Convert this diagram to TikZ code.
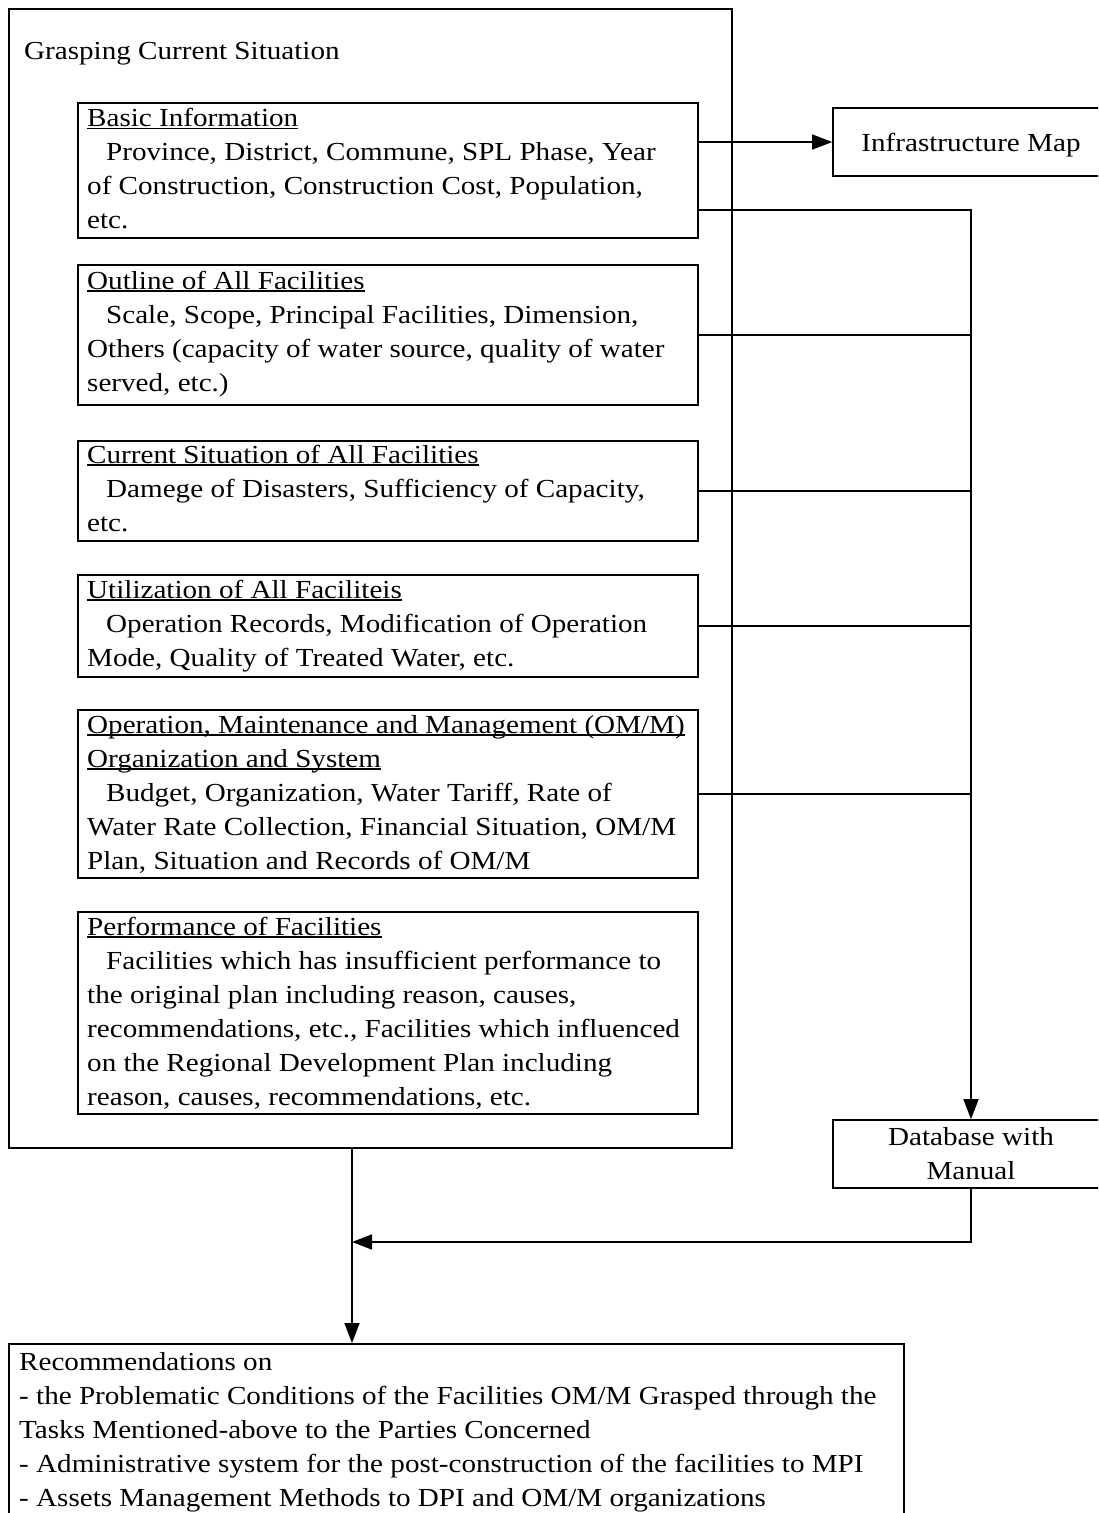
\documentclass[tikz,border=0pt]{standalone}
\usepackage{fontspec}
\setmainfont{Liberation Serif}[FakeStretch=1.12]
\usetikzlibrary{arrows.meta}
\newcommand\fs{\fontsize{26}{34}\selectfont}
\newsavebox\ulbox
\newcommand\uline[1]{\sbox\ulbox{#1}\rlap{\rule[-2.5pt]{\wd\ulbox}{1.2pt}}\usebox\ulbox}
\newcommand\ind{\hspace*{19pt}}
\begin{document}
\begin{tikzpicture}[x=1pt,y=-1pt,
  frame/.style={draw, line width=1.6pt, inner sep=0pt, anchor=north west},
  cbox/.style={draw, line width=1.6pt, inner sep=0pt, align=center, font=\fs, minimum width=276pt, minimum height=68pt},
  txt/.style={anchor=north west, inner sep=0pt, align=left, font=\fs},
  link/.style={line width=1.6pt},
  arr/.style={line width=1.6pt, -{Triangle[length=20pt,width=15pt]}}]
\clip (0,0) rectangle (1098,1513);
% outer frame
\node[frame, minimum width=723pt, minimum height=1139pt] (outer) at (8,8) {};
\node[txt] (title) at (24,35) {\strut Grasping Current Situation};
% inner boxes
\node[frame, minimum width=620pt, minimum height=135pt] (basic) at (77,102) {};
\node[txt] (basicT) at (87,102.5) {\strut\uline{Basic Information}\\
\ind Province, District, Commune, SPL Phase, Year\\
of Construction, Construction Cost, Population,\\
etc.};
\node[frame, minimum width=620pt, minimum height=140pt] (outline) at (77,264) {};
\node[txt] (outlineT) at (87,265) {\strut\uline{Outline of All Facilities}\\
\ind Scale, Scope, Principal Facilities, Dimension,\\
Others (capacity of water source, quality of water\\
served, etc.)};
\node[frame, minimum width=620pt, minimum height=100pt] (current) at (77,440) {};
\node[txt] (currentT) at (87,439) {\strut\uline{Current Situation of All Facilities}\\
\ind Damege of Disasters, Sufficiency of Capacity,\\
etc.};
\node[frame, minimum width=620pt, minimum height=102pt] (util) at (77,574) {};
\node[txt] (utilT) at (87,574) {\strut\uline{Utilization of All Faciliteis}\\
\ind Operation Records, Modification of Operation\\
Mode, Quality of Treated Water, etc.};
\node[frame, minimum width=620pt, minimum height=168pt] (omm) at (77,709) {};
\node[txt] (ommT) at (87,709) {\strut\uline{Operation, Maintenance and Management (OM/M)}\\
\uline{Organization and System}\\
\ind Budget, Organization, Water Tariff, Rate of\\
Water Rate Collection, Financial Situation, OM/M\\
Plan, Situation and Records of OM/M};
\node[frame, minimum width=620pt, minimum height=202pt] (perf) at (77,911) {};
\node[txt] (perfT) at (87,911) {\strut\uline{Performance of Facilities}\\
\ind Facilities which has insufficient performance to\\
the original plan including reason, causes,\\
recommendations, etc., Facilities which influenced\\
on the Regional Development Plan including\\
reason, causes, recommendations, etc.};
% right side boxes
\node[cbox, text depth=0pt] (infra) at (971,142) {Infrastructure Map};
\node[cbox] (db) at (971,1154) {Database with\\Manual};
% bottom box
\node[frame, minimum width=895pt, minimum height=200pt] (rec) at (8,1343) {};
\node[txt] (recT) at (19,1346) {\strut Recommendations on\\
- the Problematic Conditions of the Facilities OM/M Grasped through the\\
Tasks Mentioned-above to the Parties Concerned\\
- Administrative system for the post-construction of the facilities to MPI\\
- Assets Management Methods to DPI and OM/M organizations};
% connectors
\draw[arr] (infra.west -| basic.east) -- (infra.west);
\coordinate (j1) at (971,210);
\draw[arr] (j1 -| basic.east) -- (j1) -- (db.north);
\draw[link] (outline.east) -- (outline.east -| db.north);
\draw[link] (current.east) -- (current.east -| db.north);
\draw[link] (util.east) -- (util.east -| db.north);
\draw[link] (omm.east) -- (omm.east -| db.north);
\coordinate (m) at (352,1242);
\draw[arr] (outer.south -| m) -- (rec.north -| m);
\draw[arr] (db.south) |- (m);
\end{tikzpicture}
\end{document}
